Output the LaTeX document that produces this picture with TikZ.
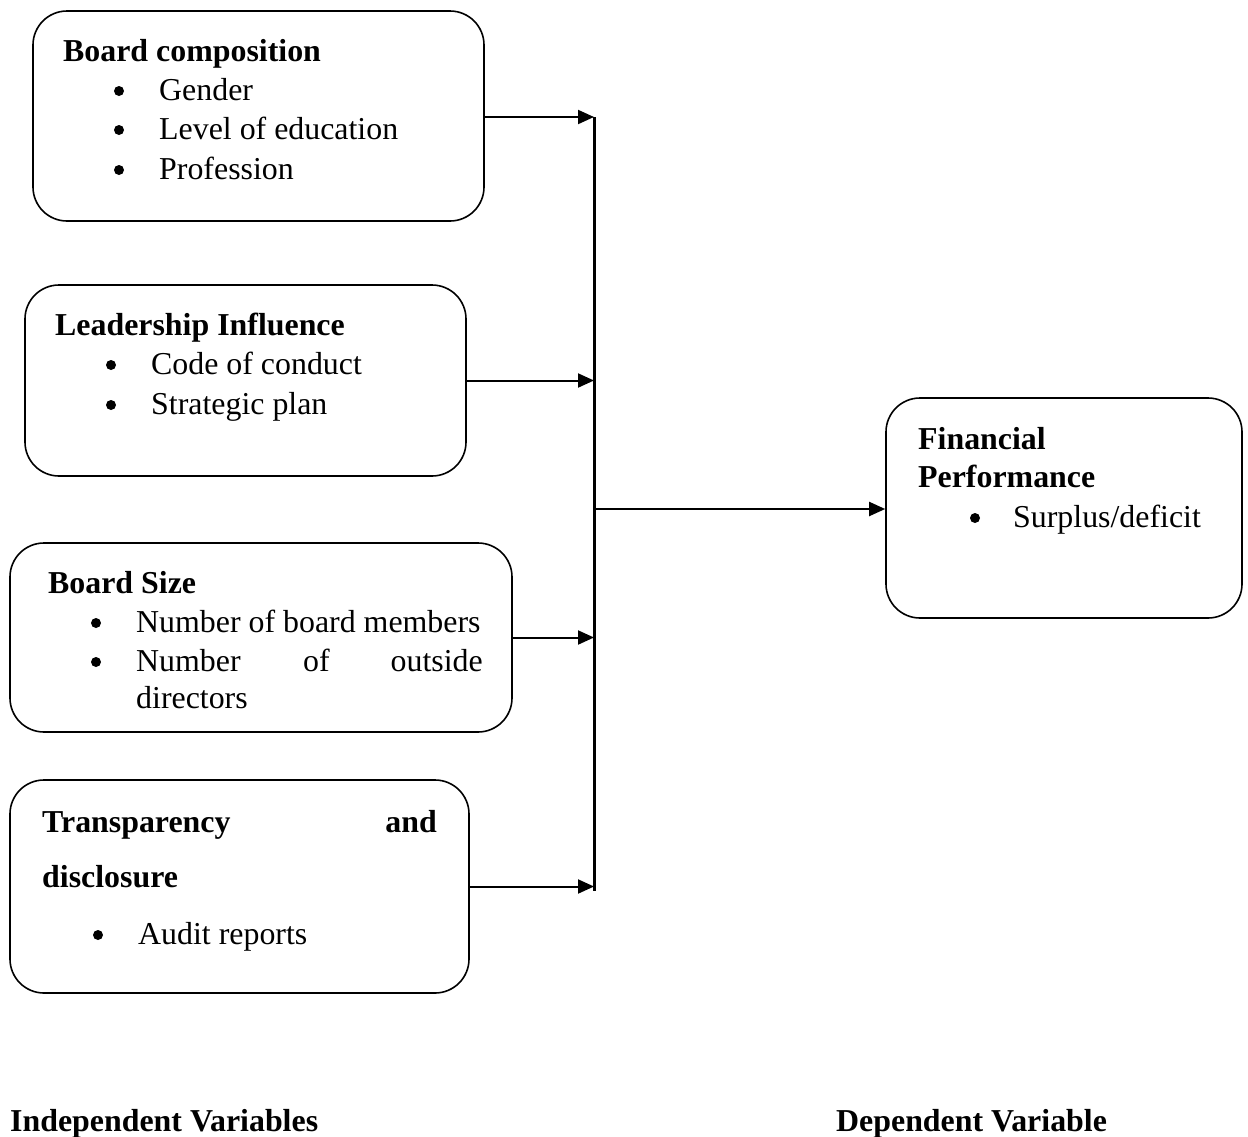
\documentclass[tikz,border=0pt]{standalone}
\usepackage{fontspec}
\setmainfont{Liberation Serif}
\usetikzlibrary{arrows.meta}
\begin{document}
\begin{tikzpicture}[x=1bp,y=-1bp,
  box/.style={draw, line width=1.6bp, rounded corners=34bp, inner sep=0pt},
  txt/.style={anchor=base west, inner sep=0pt, font=\fontsize{32}{39}\selectfont},
  btxt/.style={txt, font=\fontsize{32}{39}\selectfont\bfseries},
  bul/.style={circle, fill, inner sep=0pt, minimum size=10bp},
  arr/.style={line width=2bp, -{Triangle[length=16bp,width=14bp]}}]
\useasboundingbox (0,0) rectangle (1248,1137);
% boxes
\node[box, minimum width=451bp, minimum height=210bp] (b1) at (258.5,116) {};
\node[box, minimum width=441bp, minimum height=191bp] (b2) at (245.5,380.5) {};
\node[box, minimum width=502bp, minimum height=189bp] (b3) at (261,637.5) {};
\node[box, minimum width=459bp, minimum height=213bp] (b4) at (239.5,886.5) {};
\node[box, minimum width=356bp, minimum height=220bp] (b5) at (1064,508) {};
% box 1 text
\node[btxt] (t1) at (63,61) {Board composition};
\node[bul] (u11) at (119,91) {};
\node[txt] (t11) at (159,100) {Gender};
\node[bul] (u12) at (119,130) {};
\node[txt] (t12) at (159,139) {Level of education};
\node[bul] (u13) at (119,170) {};
\node[txt] (t13) at (159,179) {Profession};
% box 2 text
\node[btxt] (t2) at (55,335) {Leadership Influence};
\node[bul] (u21) at (111,365) {};
\node[txt] (t21) at (151,374) {Code of conduct};
\node[bul] (u22) at (111,405) {};
\node[txt] (t22) at (151,414) {Strategic plan};
% box 3 text
\node[btxt] (t3) at (48,593) {Board Size};
\node[bul] (u31) at (96,623) {};
\node[txt] (t31) at (136,632) {Number of board members};
\node[bul] (u32) at (96,662) {};
\node[txt] (t32a) at (136,671) {Number};
\node[txt] (t32b) at (303,671) {of};
\node[txt, anchor=base east] (t32c) at (483,671) {outside};
\node[txt] (t33) at (136,708) {directors};
% box 4 text
\node[btxt] (t4a) at (42,832) {Transparency};
\node[btxt, anchor=base east] (t4b) at (437,832) {and};
\node[btxt] (t4c) at (42,887) {disclosure};
\node[bul] (u41) at (98,935) {};
\node[txt] (t41) at (138,944) {Audit reports};
% box 5 text
\node[btxt] (t5a) at (918,449) {Financial};
\node[btxt] (t5b) at (918,487) {Performance};
\node[bul] (u51) at (975,518) {};
\node[txt] (t51) at (1013,527) {Surplus/deficit};
% footer
\node[btxt] (f1) at (10,1131) {Independent Variables};
\node[btxt] (f2) at (836,1131) {Dependent Variable};
% connectors
\coordinate (bartop) at (594,117);
\coordinate (barbot) at (594,891);
\coordinate (barmid) at (594,509);
\draw[line width=3bp] (bartop) -- (barbot);
\draw[arr] (b1.east |- bartop) -- (bartop);
\draw[arr] (b2.east) -- (b2.east -| bartop);
\draw[arr] (b3.east) -- (b3.east -| bartop);
\draw[arr] (b4.east) -- (b4.east -| bartop);
\draw[arr] (barmid) -- (barmid -| b5.west);
\end{tikzpicture}
\end{document}
